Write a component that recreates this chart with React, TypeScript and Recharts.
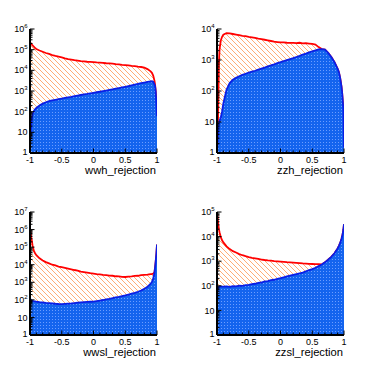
import React from "react";
import { ComposedChart, Area, XAxis, YAxis } from "recharts";

const FONT = "'Liberation Sans', Arial, Helvetica, sans-serif";

// bin positions along the rejection variable (denser near the edges)
const xBins = [
  -1, -0.99, -0.98, -0.97, -0.96, -0.94, -0.92, -0.9,
  -0.85, -0.8, -0.75, -0.7, -0.65, -0.6, -0.55, -0.5, -0.45, -0.4, -0.35, -0.3,
  -0.25, -0.2, -0.15, -0.1, -0.05, 0, 0.05, 0.1, 0.15, 0.2, 0.25, 0.3, 0.35, 0.4,
  0.45, 0.5, 0.55, 0.6, 0.65, 0.7, 0.75, 0.8, 0.85,
  0.9, 0.92, 0.94, 0.96, 0.97, 0.98, 0.99, 1,
];

const xMajorTicks = [-1, -0.5, 0, 0.5, 1];
const xTickLabels = ["-1", "-0.5", "0", "0.5", "1"];
const xMinorTicks = [-0.9, -0.8, -0.7, -0.6, -0.4, -0.3, -0.2, -0.1, 0.1, 0.2, 0.3, 0.4, 0.6, 0.7, 0.8, 0.9];

// wwh
const wwhBkg = [
  2.0e5, 2.1e5, 1.9e5, 1.75e5, 1.6e5, 1.4e5, 1.2e5, 1.07e5,
  9.1e4, 7.9e4, 6.9e4, 6.2e4, 5.5e4, 5.0e4, 4.6e4, 4.2e4, 3.8e4, 3.5e4, 3.3e4, 3.1e4,
  2.95e4, 2.8e4, 2.7e4, 2.6e4, 2.55e4, 2.5e4, 2.4e4, 2.35e4, 2.3e4, 2.2e4, 2.15e4, 2.1e4, 2.0e4, 1.95e4,
  1.85e4, 1.8e4, 1.75e4, 1.65e4, 1.6e4, 1.5e4, 1.45e4, 1.35e4, 1.15e4,
  8900, 7600, 5600, 3200, 2000, 1000, 320, 160,
];
const wwhSig = [
  2, 8, 25, 50, 75, 105, 130, 150,
  200, 245, 285, 320, 350, 375, 400, 430, 460, 490, 520, 560,
  600, 640, 680, 720, 770, 820, 870, 920, 980, 1050, 1120, 1200, 1290, 1380,
  1480, 1600, 1730, 1880, 2030, 2200, 2380, 2560, 2750,
  2900, 2950, 2800, 2100, 1700, 900, 250, 60,
];

// zzh
const zzhBkg = [
  1.5, 2, 40, 800, 2200, 4300, 5600, 6500,
  7400, 7200, 6900, 6600, 6300, 6000, 5900, 5600, 5400, 5200, 4900, 4700,
  4500, 4300, 4100, 3900, 3800, 3700, 3700, 3600, 3550, 3550, 3500, 3600, 3450, 3500,
  3400, 3300, 3150, 2600, 2250, 2150, 1700, 1250, 850,
  520, 400, 260, 140, 90, 50, 25, 1.5,
];
const zzhSig = [
  1.2, 2, 6, 9, 11, 14, 22, 40,
  110, 180, 230, 265, 300, 330, 360, 390, 420, 450, 490, 530,
  570, 620, 670, 720, 790, 850, 920, 990, 1070, 1150, 1250, 1350, 1480, 1600,
  1750, 1900, 2050, 2200, 2250, 2150, 1700, 1250, 850,
  520, 400, 260, 140, 90, 50, 25, 1.5,
];

// wwsl
const wwslBkg = [
  1.26e6, 7e5, 3.5e5, 2.2e5, 1.26e5, 6.3e4, 4.5e4, 3.5e4,
  2.3e4, 1.75e4, 1.4e4, 1.2e4, 1.0e4, 9100, 7900, 7200, 6600, 6000, 5500, 5000,
  4600, 4000, 3800, 3550, 3300, 3150, 2950, 2800, 2650, 2550, 2400, 2350, 2200, 2150,
  2050, 2000, 2100, 2150, 2300, 2350, 2550, 2650, 2750,
  2900, 2950, 3150, 3700, 7000, 1.6e4, 4e4, 1.4e5,
];
const wwslSig = [
  100, 105, 95, 90, 88, 85, 83, 80,
  74, 71, 68, 66, 63, 60, 58, 57, 59, 61, 63, 66,
  69, 72, 74, 76, 78, 80, 85, 91, 98, 107, 115, 125, 138, 150,
  165, 178, 200, 225, 250, 290, 340, 420, 550,
  830, 1050, 1600, 3550, 7000, 1.6e4, 4e4, 1.4e5,
];

// zzsl
const zzslBkg = [
  8.9e4, 6.3e4, 3.2e4, 2.0e4, 1.5e4, 9500, 7100, 5800,
  4000, 3100, 2550, 2250, 1950, 1750, 1600, 1480, 1380, 1300, 1230, 1170,
  1120, 1080, 1050, 1000, 980, 960, 940, 910, 890, 870, 850, 830, 810, 800,
  780, 770, 760, 760, 740, 900, 1150, 1500, 2100,
  3300, 4200, 5500, 8000, 1.0e4, 1.3e4, 1.9e4, 3.2e4,
];
const zzslSig = [
  50, 70, 85, 90, 93, 93, 92, 93,
  94, 91, 97, 94, 101, 100, 107, 110, 117, 121, 132, 136,
  150, 156, 169, 176, 192, 205, 222, 240, 258, 275, 295, 318, 345, 390,
  430, 480, 540, 630, 740, 900, 1150, 1500, 2100,
  3300, 4200, 5500, 8000, 1.0e4, 1.3e4, 1.9e4, 3.2e4,
];

const panels = [
  { id: "wwh", title: "wwh_rejection", bkg: wwhBkg, sig: wwhSig, maxExp: 6, left: 0, top: 0, height: 182 },
  { id: "zzh", title: "zzh_rejection", bkg: zzhBkg, sig: zzhSig, maxExp: 4, left: 187, top: 0, height: 182 },
  { id: "wwsl", title: "wwsl_rejection", bkg: wwslBkg, sig: wwslSig, maxExp: 7, left: 0, top: 183, height: 181 },
  { id: "zzsl", title: "zzsl_rejection", bkg: zzslBkg, sig: zzslSig, maxExp: 5, left: 187, top: 183, height: 181 },
];

const isMajorX = (v: number) => xMajorTicks.some((t) => Math.abs(t - v) < 1e-6);
const isMajorY = (v: number) => Math.abs(Math.log10(v) - Math.round(Math.log10(v))) < 1e-6;

function logTicks(maxExp: number) {
  const out: number[] = [];
  for (let e = 0; e <= maxExp; e++) {
    out.push(Math.pow(10, e));
    if (e < maxExp) for (let m = 2; m <= 9; m++) out.push(m * Math.pow(10, e));
  }
  return out;
}

function BottomTick(props: any) {
  const { x, y, payload } = props;
  const major = isMajorX(payload.value);
  const idx = xMajorTicks.findIndex((t) => Math.abs(t - payload.value) < 1e-6);
  return (
    <g>
      <line x1={x} x2={x} y1={y} y2={y - (major ? 4.5 : 2.5)} stroke="#000" strokeWidth={1} />
      {major && (
        <text x={x} y={y + 10} textAnchor="middle" fontSize={9} fontFamily={FONT} fill="#000">
          {xTickLabels[idx]}
        </text>
      )}
    </g>
  );
}

function TopTick(props: any) {
  const { x, y, payload } = props;
  const major = isMajorX(payload.value);
  return <line x1={x} x2={x} y1={y} y2={y + (major ? 4.5 : 2.5)} stroke="#000" strokeWidth={1} />;
}

function LeftTick(props: any) {
  const { x, y, payload } = props;
  const v = payload.value;
  const major = isMajorY(v);
  const exp = Math.round(Math.log10(v));
  return (
    <g>
      <line x1={x} x2={x + (major ? 4.5 : 2.5)} y1={y} y2={y} stroke="#000" strokeWidth={1} />
      {major && (
        <text x={x - 2.5} y={exp === 0 ? y - 1 : y} dy="0.35em" textAnchor="end" fontSize={9} fontFamily={FONT} fill="#000">
          {exp === 0 ? "1" : exp === 1 ? "10" : (
            <>
              10<tspan dy={-4} fontSize={6}>{exp}</tspan>
            </>
          )}
        </text>
      )}
    </g>
  );
}

function RightTick(props: any) {
  const { x, y, payload } = props;
  const major = isMajorY(payload.value);
  return <line x1={x} x2={x - (major ? 4.5 : 2.5)} y1={y} y2={y} stroke="#000" strokeWidth={1} />;
}

const frame = { stroke: "#000", strokeWidth: 2 };

function Panel({ p }: { p: (typeof panels)[number] }) {
  const rows = xBins.map((x, i) => ({ x, bkg: p.bkg[i], sig: p.sig[i] }));
  const yDomain = [1, Math.pow(10, p.maxExp)];
  const yTicks = logTicks(p.maxExp);
  const xTicks = [...xMajorTicks, ...xMinorTicks].sort((a, b) => a - b);
  return (
    <div style={{ position: "absolute", left: p.left, top: p.top }}>
      <ComposedChart width={187} height={p.height} data={rows} margin={{ top: 29, right: 30, bottom: 0, left: 0 }}>
        <XAxis
          xAxisId="b"
          dataKey="x"
          type="number"
          domain={[-1, 1]}
          ticks={xTicks}
          interval={0}
          height={29}
          tickSize={0}
          tickMargin={0}
          tick={(t: any) => <BottomTick {...t} />}
          tickLine={false}
          axisLine={frame}
          allowDataOverflow
        />
        <XAxis
          xAxisId="t"
          orientation="top"
          type="number"
          domain={[-1, 1]}
          ticks={xTicks}
          interval={0}
          height={0}
          tickSize={0}
          tickMargin={0}
          tick={(t: any) => <TopTick {...t} />}
          tickLine={false}
          axisLine={frame}
          allowDataOverflow
        />
        <YAxis
          yAxisId="l"
          scale="log"
          type="number"
          domain={yDomain}
          ticks={yTicks}
          interval={0}
          width={30}
          tickSize={0}
          tickMargin={0}
          tick={(t: any) => <LeftTick {...t} />}
          tickLine={false}
          axisLine={frame}
          allowDataOverflow
        />
        <YAxis
          yAxisId="r"
          orientation="right"
          scale="log"
          type="number"
          domain={yDomain}
          ticks={yTicks}
          interval={0}
          width={0}
          tickSize={0}
          tickMargin={0}
          tick={(t: any) => <RightTick {...t} />}
          tickLine={false}
          axisLine={frame}
          allowDataOverflow
        />
        <Area
          xAxisId="b"
          yAxisId="l"
          dataKey="bkg"
          type="linear"
          baseValue={1}
          stroke="#ff0000"
          strokeWidth={1.8}
          fill="url(#rootHatch)"
          fillOpacity={1}
          dot={false}
          activeDot={false}
          isAnimationActive={false}
        />
        <Area
          xAxisId="b"
          yAxisId="l"
          dataKey="sig"
          type="linear"
          baseValue={1}
          stroke="#0a1ee6"
          strokeWidth={1.8}
          fill="url(#rootDots)"
          fillOpacity={1}
          dot={false}
          activeDot={false}
          isAnimationActive={false}
        />
      </ComposedChart>
    </div>
  );
}

export default function App() {
  return (
    <div style={{ position: "absolute", left: 0, top: 0, width: 374, height: 365, background: "#fff" }}>
      <svg width={0} height={0} style={{ position: "absolute" }}>
        <defs>
          <pattern id="rootHatch" patternUnits="userSpaceOnUse" width={5} height={5}>
            <rect width={5} height={5} fill="#fff" />
            <line x1={0} y1={0} x2={5} y2={5} stroke="#ffa466" strokeWidth={0.9} />
            <line x1={-1} y1={4} x2={1} y2={6} stroke="#ffa466" strokeWidth={0.9} />
            <line x1={4} y1={-1} x2={6} y2={1} stroke="#ffa466" strokeWidth={0.9} />
          </pattern>
          <pattern id="rootDots" patternUnits="userSpaceOnUse" width={3} height={3}>
            <rect width={3} height={3} fill="#1464ee" />
            <rect x={1} y={1} width={1} height={1} fill="#6b9dff" />
          </pattern>
        </defs>
      </svg>
      {panels.map((p) => (
        <Panel key={p.id} p={p} />
      ))}
      <svg width={374} height={365} style={{ position: "absolute", left: 0, top: 0, pointerEvents: "none" }}>
        {panels.map((p) => (
          <text
            key={p.id}
            x={p.left + 156}
            y={p.top + (p.top === 0 ? 174 : 173)}
            textAnchor="end"
            fontSize={11.2}
            fontFamily={FONT}
            fill="#000"
          >
            {p.title}
          </text>
        ))}
      </svg>
    </div>
  );
}
